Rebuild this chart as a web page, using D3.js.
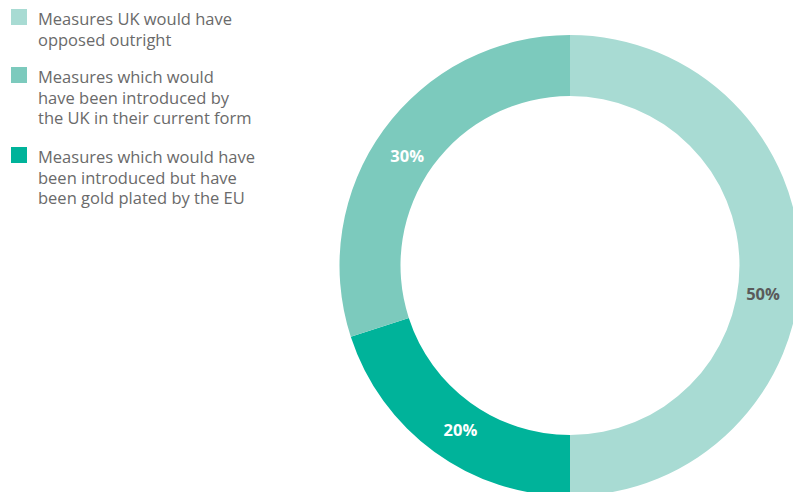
<!DOCTYPE html>
<html>
<head>
<meta charset="utf-8">
<script src="https://cdn.jsdelivr.net/npm/d3@7/dist/d3.min.js"></script>
<style>
  html, body { margin: 0; padding: 0; background: #fff; }
  svg { display: block; }
</style>
</head>
<body>
<svg id="chart" width="793" height="492"></svg>
<script>
// Share of measures by how the UK would have treated them
const categories = [
  "Measures UK would have opposed outright",
  "Measures which would have introduced by the UK in their current form",
  "Measures which would have been introduced but have been gold plated by the EU"
];
const legendLines = [
  ["Measures UK would have", "opposed outright"],
  ["Measures which would", "have been introduced by", "the UK in their current form"],
  ["Measures which would have", "been introduced but have", "been gold plated by the EU"]
];
const values = [50, 30, 20];
const colors = ["#a8dbd3", "#7ccabd", "#00b39a"];
const labelColors = ["#5a5a5a", "#ffffff", "#ffffff"];
// Drawing order round the ring, clockwise from twelve o'clock
const ringOrder = [0, 2, 1];

const svg = d3.select("#chart");
const font = "'Open Sans', 'Noto Sans', sans-serif";

// ---- Donut ----
const cx = 570, cy = 265.5;
const outerR = 230.5, innerR = 169.5;

const pie = d3.pie()
  .sort(null)
  .value(i => values[i]);
const arcs = pie(ringOrder);

const arc = d3.arc().innerRadius(innerR).outerRadius(outerR);
const labelArc = d3.arc().innerRadius(200).outerRadius(200);

const g = svg.append("g").attr("transform", `translate(${cx},${cy})`);

g.selectAll("path.slice")
  .data(arcs)
  .join("path")
  .attr("class", "slice")
  .attr("d", arc)
  .attr("fill", d => colors[d.data]);

// small shifts of the percentage labels off the slice centroids
const labelNudge = { 0: [-7, 28], 1: [-1, 8], 2: [8, 2] };

g.selectAll("text.value")
  .data(arcs)
  .join("text")
  .attr("class", "value")
  .attr("transform", d => {
    const [x, y] = labelArc.centroid(d);
    const n = labelNudge[d.data] || [0, 0];
    return `translate(${x + n[0]},${y + n[1]})`;
  })
  .attr("text-anchor", "middle")
  .attr("dominant-baseline", "central")
  .attr("font-family", font)
  .attr("font-weight", 700)
  .attr("font-size", 16.5)
  .attr("fill", d => labelColors[d.data])
  .text(d => values[d.data] + "%");

// ---- Legend ----
const legendTop = [9, 67, 147];
const legend = svg.append("g");
legendLines.forEach((lines, i) => {
  legend.append("rect")
    .attr("x", 11).attr("y", legendTop[i])
    .attr("width", 16).attr("height", 16)
    .attr("fill", colors[i]);
  const t = legend.append("text")
    .attr("font-family", font)
    .attr("font-size", 16.5)
    .attr("fill", "#6a6a6a");
  lines.forEach((ln, j) => {
    t.append("tspan")
      .attr("x", 38)
      .attr("y", legendTop[i] + 16 + j * 20.5)
      .text(ln);
  });
});
</script>
</body>
</html>
